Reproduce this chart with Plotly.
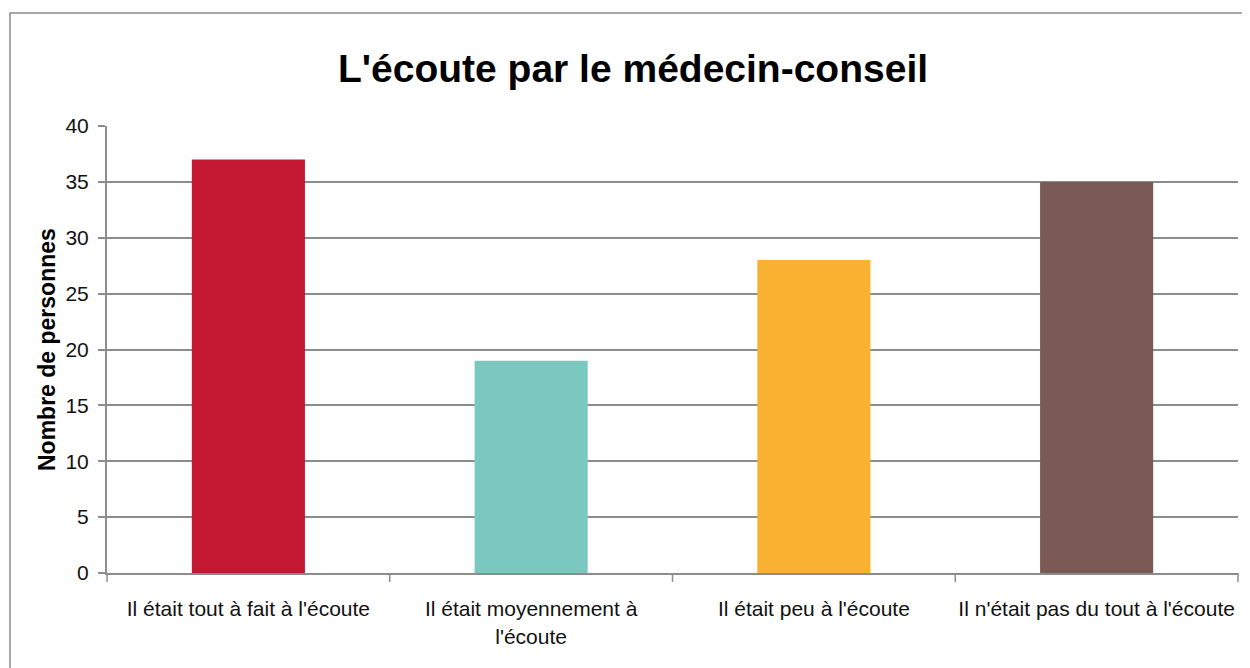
import plotly.graph_objects as go

categories = ["Il était tout à fait à l'écoute",
              "Il était moyennement à<br>l'écoute",
              "Il était peu à l'écoute",
              "Il n'était pas du tout à l'écoute"]
values = [37, 19, 28, 35]
colors = ["#C31732", "#7BC8C1", "#F8B131", "#7B5955"]
y_ticks = [0, 5, 10, 15, 20, 25, 30, 35, 40]

FONT = "Liberation Sans Narrow, Arial Narrow, Liberation Sans, Arial, sans-serif"

# plot area in figure px (page has an 8px body margin)
L, R, T, B = 99, 1230, 118, 565
W, H = 1250, 668
PW, PH = R - L, B - T

fig = go.Figure()
fig.add_trace(go.Bar(x=categories, y=values, marker=dict(color=colors, line=dict(width=0)),
                     width=0.4, showlegend=False, hoverinfo="x+y"))

fig.update_layout(
    width=W, height=H,
    margin=dict(l=L, r=W - R, t=T, b=H - B),
    paper_bgcolor="white", plot_bgcolor="white",
    title=dict(text="<b>L'écoute par le médecin-conseil</b>",
               font=dict(family=FONT, size=39, color="#000000"),
               x=0.5, xanchor="center", xref="container",
               y=1 - 60 / H, yanchor="middle", yref="container"),
    bargap=0.6,
)
fig.update_xaxes(
    showline=True, linecolor="#8c8c8c", linewidth=2,
    ticks="", showgrid=False,
    tickfont=dict(family=FONT, size=21, color="#111111"),
    ticklabelstandoff=16,
)
fig.update_yaxes(
    range=[0, 40], tickvals=y_ticks,
    showline=True, linecolor="#8c8c8c", linewidth=2,
    ticks="outside", ticklen=7, tickcolor="#8c8c8c", tickwidth=1.5,
    showgrid=True, gridcolor="#8c8c8c", gridwidth=2,
    zeroline=False,
    tickfont=dict(family=FONT, size=21, color="#111111"),
    ticklabelstandoff=5,
)

fig.add_annotation(text="<b>Nombre de personnes</b>", textangle=-90,
                   xref="paper", yref="paper",
                   x=(39 - L) / PW, y=(B - 342) / PH,
                   xanchor="center", yanchor="middle", showarrow=False,
                   font=dict(family="Liberation Sans, Arial, sans-serif", size=23, color="#000000"))

# category divider ticks on x axis (below axis)
shapes = []
for i in range(5):
    xp = i / 4
    shapes.append(dict(type="line", xref="paper", yref="paper", x0=xp, x1=xp,
                       y0=0, y1=-9 / PH, line=dict(color="#8c8c8c", width=1.5)))
# outer chart border
shapes.append(dict(type="rect", xref="paper", yref="paper",
                   x0=(2 - L) / PW, x1=(1280 - L) / PW,
                   y0=(B - 700) / PH, y1=(B - 5) / PH,
                   line=dict(color="#8c8c8c", width=1.5), fillcolor="rgba(0,0,0,0)", layer="below"))
fig.update_layout(shapes=shapes)

fig.write_html("out.html")
